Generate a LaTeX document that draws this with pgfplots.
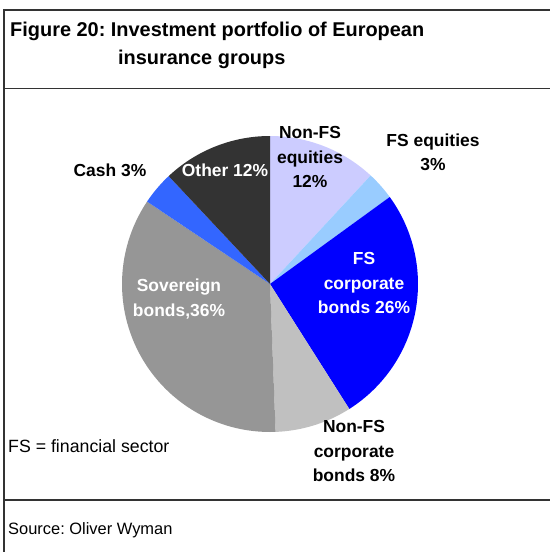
\documentclass[border=0pt]{standalone}
\usepackage{pgfplots}
\pgfplotsset{compat=1.18}
\usepackage{fontspec}
\setmainfont{Liberation Sans}
\frenchspacing
\definecolor{cNFSeq}{HTML}{CCCCFF}
\definecolor{cFSeq}{HTML}{99CCFF}
\definecolor{cFScorp}{HTML}{0000FF}
\definecolor{cNFScorp}{HTML}{C0C0C0}
\definecolor{cSov}{HTML}{969696}
\definecolor{cCash}{HTML}{3366FF}
\definecolor{cOther}{HTML}{333333}
\definecolor{frame}{HTML}{333333}
% shares in percent, clockwise from 12 o'clock
% Non-FS equities 11.9, FS equities 3.1, FS corporate bonds 26.0,
% Non-FS corporate bonds 8.4, Sovereign bonds 35.0, Cash 3.6, Other 12.0
\def\cx{270}\def\cy{284}\def\rr{148}
\newcommand{\slice}[3]{%
  \pgfmathsetmacro{\aS}{90-3.6*(#1)}%
  \pgfmathsetmacro{\aE}{90-3.6*(#2)}%
  \addplot[fill=#3, draw=none, domain=\aS:\aE, samples=60, variable=\t]
    ({\cx+\rr*cos(\t)},{\cy-\rr*sin(\t)}) -- (axis cs:\cx,\cy) -- cycle;
}
\begin{document}
\begin{tikzpicture}
\begin{axis}[
  at={(0,0)}, anchor=south west,
  width=550bp, height=552bp, scale only axis,
  xmin=0, xmax=550, ymin=0, ymax=552, y dir=reverse,
  hide axis, clip=false,
]
\coordinate (bl) at (rel axis cs:0,0);
\coordinate (tr) at (rel axis cs:1,1);
\slice{0}{11.9}{cNFSeq}
\slice{11.9}{15.0}{cFSeq}
\slice{15.0}{41.0}{cFScorp}
\slice{41.0}{49.4}{cNFScorp}
\slice{49.4}{84.4}{cSov}
\slice{84.4}{88.0}{cCash}
\slice{88.0}{100}{cOther}
% frame
\draw[frame, line width=1.6bp] (axis cs:4,552) -- (axis cs:4,10) -- (axis cs:550,10);
\draw[frame, line width=1.6bp] (axis cs:4,88.5) -- (axis cs:550,88.5);
\draw[frame, line width=1.6bp] (axis cs:4,500) -- (axis cs:550,500);
% title
\node[anchor=base west, inner sep=0pt, font=\fontsize{20}{24}\selectfont\bfseries] at (axis cs:10,37) {Figure 20: Investment portfolio of European};
\node[anchor=base west, inner sep=0pt, font=\fontsize{20}{24}\selectfont\bfseries] at (axis cs:118,65) {insurance groups};
% labels
\tikzset{lab/.style={inner sep=0pt, align=center, font=\fontsize{17.5}{24.5}\selectfont\bfseries}}
\node[lab] at (axis cs:110,170) {Cash 3\%};
\node[lab, white] at (axis cs:225,170) {Other 12\%};
\node[lab] at (axis cs:310,157) {Non-FS\\equities\\12\%};
\node[lab] at (axis cs:433,152) {FS equities\\3\%};
\node[lab, white] at (axis cs:364,283) {FS\\corporate\\bonds 26\%};
\node[lab, white] at (axis cs:179,299) {Sovereign\\bonds,36\%};
\node[lab] at (axis cs:354,451) {Non-FS\\corporate\\bonds 8\%};
\node[anchor=west, inner sep=0pt, font=\fontsize{17.8}{20}\selectfont] at (axis cs:8,446) {FS = financial sector};
\node[anchor=west, inner sep=0pt, font=\fontsize{16.5}{20}\selectfont] at (axis cs:8,530) {Source: Oliver Wyman};
\end{axis}
\pgfresetboundingbox
\path[use as bounding box] (bl) rectangle (tr);
\end{tikzpicture}
\end{document}
